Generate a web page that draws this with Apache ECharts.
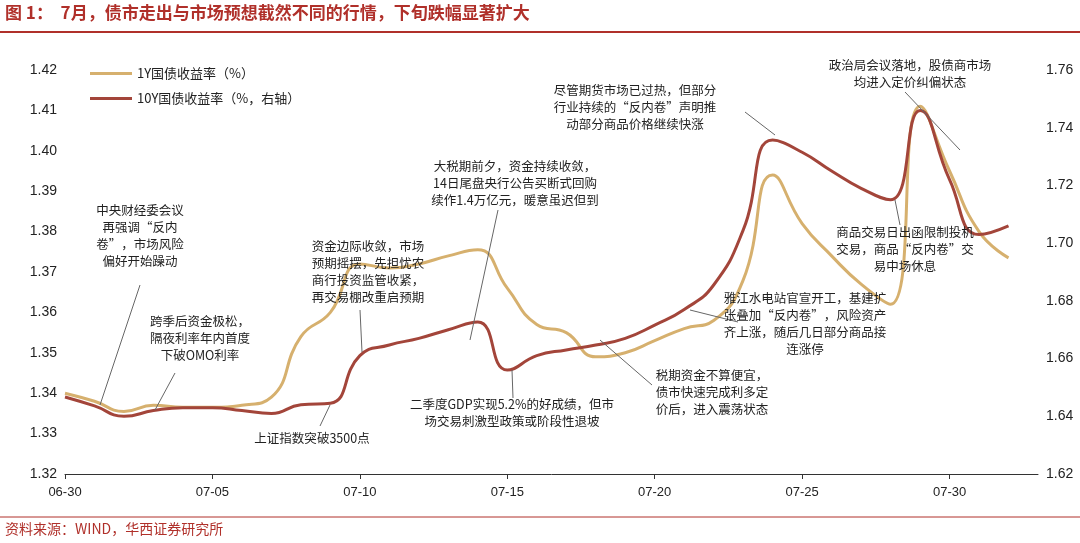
<!DOCTYPE html><html><head><meta charset="utf-8"><script src="https://cdn.jsdelivr.net/npm/echarts@6/dist/echarts.min.js"></script>
<style>body{margin:0}#c{width:1080px;height:543px}</style></head><body><div id="c"></div><script>
const dates=['06-30','07-01','07-02','07-03','07-04','07-05','07-06','07-07','07-08','07-09','07-10','07-11','07-12','07-13','07-14','07-15','07-16','07-17','07-18','07-19','07-20','07-21','07-22','07-23','07-24','07-25','07-26','07-27','07-28','07-29','07-30','07-31','08-01','08-02'];
const y1=[1.340,1.338,1.3355,1.337,1.3365,1.3365,1.337,1.339,1.354,1.360,1.372,1.371,1.372,1.374,1.3755,1.366,1.357,1.355,1.349,1.350,1.353,1.356,1.358,1.368,1.394,1.382,1.374,1.367,1.362,1.411,1.395,1.380,1.3735];
const y10=[1.6467,1.6436,1.640,1.642,1.643,1.643,1.642,1.641,1.644,1.6445,1.661,1.6647,1.667,1.670,1.6727,1.656,1.661,1.663,1.6647,1.667,1.6716,1.677,1.6855,1.7045,1.7357,1.7315,1.725,1.719,1.715,1.746,1.722,1.703,1.706];
const F='"Noto Sans CJK SC"';
const notes=[
 ['中央财经委会议\n再强调“反内\n卷”，市场风险\n偏好开始躁动',140,236,[140,285,100,405]],
 ['跨季后资金极松，\n隔夜利率年内首度\n下破OMO利率',200,338,[175,373,155,410]],
 ['上证指数突破3500点',312,438,[320,426,330,405]],
 ['资金边际收敛，市场\n预期摇摆，先担忧农\n商行投资监管收紧，\n再交易棚改重启预期',368,272,[360,310,362,352]],
 ['大税期前夕，资金持续收敛，\n14日尾盘央行公告买断式回购\n续作1.4万亿元，暖意虽迟但到',515,183,[498,210,470,340]],
 ['二季度GDP实现5.2%的好成绩，但市\n场交易刺激型政策或阶段性退坡',512,413,[513,398,512,370]],
 ['尽管期货市场已过热，但部分\n行业持续的“反内卷”声明推\n动部分商品价格继续快涨',635,107,[745,112,775,135]],
 ['政治局会议落地，股债商市场\n均进入定价纠偏状态',910,74,[905,92,960,150]],
 ['商品交易日出函限制投机\n交易，商品“反内卷”交\n易中场休息',905,249,[900,225,895,200]],
 ['雅江水电站官宣开工，基建扩\n张叠加“反内卷”，风险资产\n齐上涨，随后几日部分商品接\n连涨停',805,324,[738,322,690,310]],
 ['税期资金不算便宜，\n债市快速完成利多定\n价后，进入震荡状态',712,392,[652,385,600,340]]
];
const g=[
 {type:'text',left:5,top:4,style:{text:'图 1：  7月，债市走出与市场预想截然不同的行情，下旬跌幅显著扩大',fill:'#B0302A',font:'bold 17px '+F}},
 {type:'line',shape:{x1:0,y1:32,x2:1080,y2:32},style:{stroke:'#B0302A',lineWidth:2}},
 {type:'line',shape:{x1:0,y1:517,x2:1080,y2:517},style:{stroke:'#B0302A',lineWidth:1}},
 {type:'text',left:5,top:522,style:{text:'资料来源：WIND，华西证券研究所',fill:'#B0302A',font:'14px '+F}}
];
notes.forEach(n=>{
 g.push({type:'line',shape:{x1:n[3][0],y1:n[3][1],x2:n[3][2],y2:n[3][3]},style:{stroke:'#666',lineWidth:1},z:5});
 g.push({type:'text',x:n[1],y:n[2],style:{text:n[0],fill:'#222',font:'12.5px '+F,align:'center',verticalAlign:'middle',lineHeight:17},z:10});
});
const ch=echarts.init(document.getElementById('c'));
ch.setOption({animation:false,
 grid:{left:65,right:42,top:70,bottom:69},
 legend:{orient:'vertical',left:85,top:62,itemWidth:42,itemGap:12,textStyle:{fontFamily:F,fontSize:13,color:'#222'},data:[{name:'1Y国债收益率（%）',icon:'rect'},{name:'10Y国债收益率（%，右轴）',icon:'rect'}],itemHeight:3},
 xAxis:{type:'category',data:dates,boundaryGap:false,axisLine:{lineStyle:{color:'#333'}},axisTick:{alignWithLabel:true,interval:4},axisLabel:{interval:4,color:'#222',fontSize:13,margin:12}},
 yAxis:[{type:'value',min:1.32,max:1.42,interval:0.01,splitLine:{show:false},axisLine:{show:false},axisLabel:{formatter:v=>v.toFixed(2),color:'#222',fontSize:14}},
  {type:'value',min:1.62,max:1.76,interval:0.02,splitLine:{show:false},axisLine:{show:false},axisLabel:{formatter:v=>v.toFixed(2),color:'#222',fontSize:14}}],
 series:[{name:'1Y国债收益率（%）',type:'line',data:y1,smooth:0.5,showSymbol:false,lineStyle:{color:'#D6B06E',width:3},itemStyle:{color:'#D6B06E'}},
  {name:'10Y国债收益率（%，右轴）',type:'line',yAxisIndex:1,data:y10,smooth:0.5,showSymbol:false,lineStyle:{color:'#A3453A',width:3},itemStyle:{color:'#A3453A'}}],
 graphic:g});
</script></body></html>
